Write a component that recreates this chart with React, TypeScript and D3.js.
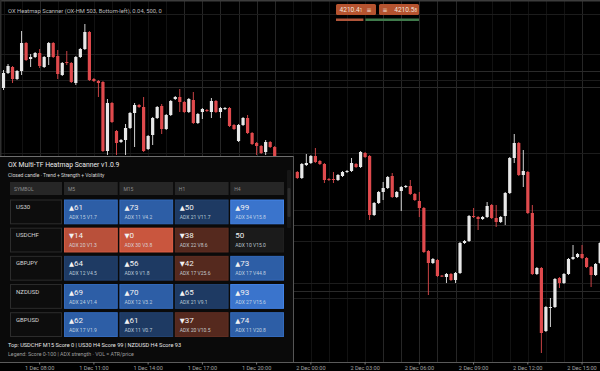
import * as d3 from "d3";

const W = 600;
const H = 371;

// 15m candles [open, high, low, close]; indices 0..60 sit above/behind the scanner panel
const leftStart = 0;
const leftCandles: number[][] = [
  [4258, 4262.5, 4257.5, 4261.75],
  [4261.75, 4264, 4261.5, 4263.5],
  [4263.25, 4263.5, 4259.25, 4260.25],
  [4260.25, 4262.5, 4260, 4262.25],
  [4262.25, 4272.25, 4261.25, 4269.25],
  [4269.25, 4269.5, 4264.75, 4265],
  [4265.25, 4266.5, 4263.25, 4265.75],
  [4265.75, 4267, 4265.5, 4266.75],
  [4266.75, 4267.75, 4263, 4263.5],
  [4263.25, 4266, 4263, 4265.75],
  [4265.75, 4269.5, 4263.75, 4269.25],
  [4269.25, 4269.5, 4265.5, 4265.75],
  [4266, 4267.5, 4260.25, 4261.5],
  [4261.25, 4264.5, 4261, 4264.25],
  [4264.5, 4267.25, 4263.75, 4264.25],
  [4264.25, 4264.5, 4259.25, 4259.5],
  [4259.25, 4266, 4258.75, 4265.75],
  [4265.75, 4268, 4265.5, 4267.75],
  [4267.75, 4274, 4267.5, 4272],
  [4272, 4272.25, 4259.75, 4260],
  [4260.25, 4260.5, 4259.5, 4259.75],
  [4259.75, 4260, 4255.75, 4259.25],
  [4259.5, 4259.75, 4242, 4242.25],
  [4242.25, 4255.25, 4241.25, 4254.25],
  [4254.25, 4254.5, 4249.25, 4249.5],
  [4247.25, 4247.5, 4241.25, 4244.25],
  [4244.5, 4245.25, 4244.25, 4245],
  [4245, 4249, 4241.25, 4248],
  [4248, 4252, 4247.75, 4251.75],
  [4251.75, 4254.25, 4243.25, 4253.75],
  [4253.75, 4254, 4253, 4253.25],
  [4253.25, 4255.75, 4242, 4242.25],
  [4242.75, 4246.25, 4242.5, 4246],
  [4246.25, 4250.75, 4243.75, 4250.5],
  [4250.5, 4253.5, 4250.25, 4253.25],
  [4253.5, 4254, 4246.5, 4247.75],
  [4247.75, 4251.5, 4247.5, 4251.25],
  [4251.25, 4255, 4251, 4254.75],
  [4255.25, 4256, 4255, 4255.75],
  [4255.75, 4257.75, 4252, 4254.5],
  [4254.5, 4254.75, 4251.75, 4252],
  [4252, 4255.5, 4251.75, 4255.25],
  [4255, 4257, 4249, 4249.25],
  [4249.25, 4251.75, 4249, 4251.5],
  [4252, 4253, 4250.25, 4252.75],
  [4252.5, 4252.75, 4252, 4252.25],
  [4252, 4255.5, 4250.5, 4254.75],
  [4254.75, 4255, 4251.75, 4252],
  [4252, 4253.25, 4250.5, 4253],
  [4252.75, 4253.25, 4252.5, 4253],
  [4253, 4253.25, 4248.25, 4248.5],
  [4248.75, 4249, 4247.5, 4247.75],
  [4244.75, 4249, 4244.5, 4248.75],
  [4248.75, 4250.75, 4248.5, 4250.5],
  [4250.5, 4251.25, 4246.5, 4246.75],
  [4246.75, 4247, 4243.75, 4244],
  [4244.25, 4244.5, 4241.25, 4243.5],
  [4243.5, 4243.75, 4241.5, 4241.75],
  [4242, 4245, 4241.25, 4244.5],
  [4244.5, 4244.75, 4243, 4243.25],
  [4243.25, 4243.5, 4240.5, 4240.75],
];

// indices 65..132, right of the panel
const rightStart = 65;
const rightCandles: number[][] = [
  [4237, 4237.25, 4235.25, 4235.5],
  [4235.5, 4239.25, 4235.25, 4239],
  [4238.75, 4241.5, 4238.5, 4239.25],
  [4239.25, 4241.25, 4239, 4241],
  [4241, 4243, 4239.25, 4239.5],
  [4239.75, 4240, 4238.75, 4239],
  [4239, 4239.25, 4234.25, 4235],
  [4235.25, 4235.5, 4234.75, 4235],
  [4235.25, 4237, 4234.25, 4235],
  [4235, 4236.5, 4234.75, 4236.25],
  [4236, 4237.25, 4235.75, 4237],
  [4237, 4237.5, 4236.75, 4237.25],
  [4237.25, 4240.5, 4237, 4239.25],
  [4239, 4239.25, 4238, 4238.25],
  [4238.25, 4242.25, 4238, 4242],
  [4241.75, 4242, 4240.5, 4240.75],
  [4241, 4241.25, 4225, 4226.25],
  [4226.25, 4229.5, 4226, 4229.25],
  [4229.25, 4232.25, 4229, 4232],
  [4232, 4234.5, 4230, 4233],
  [4233, 4236, 4232.75, 4235.75],
  [4236, 4236.75, 4230.5, 4230.75],
  [4230.75, 4232.25, 4230.5, 4232],
  [4232.25, 4233.5, 4227.25, 4233.25],
  [4233.25, 4233.75, 4233, 4233.5],
  [4233.5, 4235, 4231.25, 4231.5],
  [4231.5, 4231.75, 4229.75, 4230],
  [4229.75, 4232, 4225.75, 4228],
  [4228, 4228.25, 4216.75, 4217],
  [4217.25, 4217.5, 4206.25, 4214.25],
  [4214.25, 4215.5, 4214, 4215.25],
  [4215, 4215.25, 4210.75, 4211],
  [4211.1, 4211.25, 4210.75, 4211],
  [4210.75, 4211.75, 4209.25, 4211.5],
  [4211.5, 4211.75, 4209.75, 4210],
  [4210, 4212, 4209.25, 4211.75],
  [4211.75, 4219.5, 4211.5, 4219.25],
  [4219.25, 4220, 4219, 4219.75],
  [4219.75, 4226.25, 4219.5, 4226],
  [4226, 4228, 4225.5, 4225.75],
  [4225.75, 4226, 4222.5, 4225.25],
  [4225.25, 4226, 4225, 4225.75],
  [4225.75, 4229.5, 4225.5, 4228.5],
  [4228.75, 4229, 4225.25, 4225.5],
  [4225.5, 4228.75, 4223.25, 4224.5],
  [4224.5, 4226, 4224.25, 4225.75],
  [4226, 4232, 4223.75, 4231.75],
  [4231.75, 4240.75, 4231.5, 4240.5],
  [4240.5, 4246.5, 4239.25, 4244.25],
  [4244.25, 4244.5, 4236, 4236.25],
  [4236.25, 4242.5, 4233.25, 4237.25],
  [4237, 4237.25, 4226.5, 4226.75],
  [4226.75, 4228.75, 4211.25, 4211.5],
  [4211.5, 4213.25, 4211.25, 4213],
  [4213, 4213.25, 4191.75, 4196.75],
  [4197.25, 4203.5, 4197, 4203.25],
  [4203, 4205.5, 4198.25, 4203.25],
  [4203.25, 4210.5, 4203, 4210.25],
  [4210.5, 4210.75, 4208, 4209.25],
  [4209.25, 4211.75, 4209, 4211.5],
  [4211.5, 4215.5, 4211.25, 4215.25],
  [4215.25, 4218.75, 4215, 4215.75],
  [4215.75, 4216.75, 4215.5, 4216.5],
  [4216.5, 4218.75, 4215.25, 4215.5],
  [4215.5, 4215.75, 4213, 4213.25],
  [4213.25, 4213.5, 4208.25, 4211.25],
  [4211.25, 4214.25, 4211, 4214],
  [4214.25, 4219.5, 4214, 4219.25],
];

const tickIdx = [8, 20, 32, 44, 56, 68, 80, 92, 104, 116, 128];
const tickLabels = [
  "1 Dec 08:00", "1 Dec 11:00", "1 Dec 14:00", "1 Dec 17:00", "1 Dec 20:00",
  "2 Dec 00:00", "2 Dec 03:00", "2 Dec 06:00", "2 Dec 09:00", "2 Dec 12:00", "2 Dec 15:00",
];
const strongGridIdx = [8, 40, 44, 48, 52, 56, 60, 84, 88, 92, 96, 100, 128];
const priceLevels = [4276.5, 4266.5, 4262.25, 4260, 4258.25, 4241.75, 4227.5, 4223.75, 4219.75, 4209.25, 4207.25, 4205.5];
const strongLevels = [4262.25, 4258.25, 4223.75, 4207.25];

const bidAsk = ["4210.4", "4210.5"];
const bidAskTail = ["1", "8"];
const sentiment = [33, 67];

const symbols = ["US30", "USDCHF", "GBPJPY", "NZDUSD", "GBPUSD"];
const timeframes = ["M5", "M15", "H1", "H4"];
const scores = [
  [61, 73, 50, 99],
  [14, 0, 38, 50],
  [64, 56, 42, 73],
  [69, 70, 65, 93],
  [62, 61, 37, 74],
];
const adx = [
  [15, 11, 21, 34],
  [20, 30, 22, 10],
  [12, 9, 17, 17],
  [24, 12, 21, 27],
  [17, 11, 20, 11],
];
const vol = [
  ["1.7", "4.2", "11.7", "15.8"],
  ["1.3", "3.8", "8.6", "15.0"],
  ["4.5", "1.8", "25.6", "44.8"],
  ["1.4", "3.2", "9.1", "15.6"],
  ["1.9", "0.7", "10.5", "20.8"],
];
// signal state per cell
const states = [
  ["bull", "bull", "weakBull", "strongBull"],
  ["bear", "strongBear", "weakBear", "neutral"],
  ["weakBull", "weakBull", "weakBear", "bull"],
  ["bull", "bull", "weakBull", "strongBull"],
  ["bull", "weakBull", "weakBear", "bull"],
];
const topLine = "Top: USDCHF M15 Score 0 | US30 H4 Score 99 | NZDUSD H4 Score 93";
const legendLine = "Legend: Score 0-100 | ADX strength · VOL = ATR/price";

const stateColor: Record<string, string> = {
  strongBull: "#3a74cc",
  bull: "#2d5ea6",
  weakBull: "#1e3a63",
  neutral: "#1b1b1b",
  weakBear: "#55291e",
  bear: "#b9503a",
  strongBear: "#c9563e",
};

const FONT = "Roboto, 'DejaVu Sans', sans-serif";

export default function App() {
  const x = d3.scaleLinear().domain([0, 132]).range([3.5, 3.5 + 132 * 4.52]);
  const y = d3.scaleLinear().domain([4280, 4189.5]).range([0, 362]);

  const candles = [
    ...leftCandles.map((c, i) => ({ i: leftStart + i, o: c[0], h: c[1], l: c[2], c: c[3] })),
    ...rightCandles.map((c, i) => ({ i: rightStart + i, o: c[0], h: c[1], l: c[2], c: c[3] })),
  ];

  const hours = d3.range(0, 133, 4);

  // scanner layout
  const panel = { x: 0, y: 156, w: 293, h: 206 };
  const colX = d3.scaleBand<number>().domain(d3.range(4)).range([64, 284]).paddingInner(0.03);
  const rowY = d3.scaleBand<number>().domain(d3.range(symbols.length)).range([199.5, 337]).paddingInner(0.12);

  const bar = d3.scaleLinear().domain([0, 100]).range([336, 419]);

  return (
    <div style={{ position: "fixed", left: 0, top: 0, width: W, height: H, background: "#000" }}>
      <svg width={W} height={H} style={{ display: "block", fontFamily: FONT }}>
        <rect width={W} height={H} fill="#000" />

        {/* grid */}
        {hours.map((h) => (
          <line key={"v" + h} x1={Math.round(x(h)) + 0.5} x2={Math.round(x(h)) + 0.5} y1={0} y2={362}
            stroke={strongGridIdx.includes(h) ? "#262626" : "#121212"} />
        ))}
        {priceLevels.map((p) => (
          <line key={"h" + p} x1={0} x2={W} y1={Math.round(y(p)) + 0.5} y2={Math.round(y(p)) + 0.5}
            stroke={strongLevels.includes(p) ? "#2a2a2a" : "#1c1c1c"} />
        ))}

        {/* candles */}
        {candles.map((d) => {
          const up = d.c >= d.o;
          const col = up ? "#e8e8e8" : "#e04a4d";
          const cx = x(d.i);
          const top = y(Math.max(d.o, d.c));
          const bh = Math.max(1, y(Math.min(d.o, d.c)) - top);
          return (
            <g key={d.i}>
              <line x1={cx} x2={cx} y1={y(d.h)} y2={y(d.l)} stroke={col} strokeWidth={0.9} />
              <rect x={cx - 1.6} y={top} width={3.2} height={bh} fill={col} />
            </g>
          );
        })}

        {/* pane border + title */}
        <line x1={0} x2={W} y1={0.75} y2={0.75} stroke="#3c3c3c" strokeWidth={1.5} />
        <line x1={0.75} x2={0.75} y1={0} y2={362} stroke="#2e2e2e" strokeWidth={1.5} />
        <text x={8} y={12.5} fontSize={5.8} fill="#bdbdbd">
          OX Heatmap Scanner (OX-HM 503, Bottom-left), 0.04, 500, 0
        </text>

        {/* bid / ask badges */}
        {bidAsk.map((v, k) => {
          const bx = k === 0 ? 336 : 379;
          return (
            <g key={v}>
              <rect x={bx} y={4} width={40} height={11} rx={1.5} fill="#b5532f" />
              {k === 0 ? (
                <>
                  <text x={bx + 3.5} y={12.3} fontSize={6.6} fill="#f3e3dc">
                    {v}<tspan fontSize={4.5}>{bidAskTail[k]}</tspan>
                  </text>
                  <text x={bx + 33} y={12} fontSize={6} fill="#f3e3dc" textAnchor="middle">≡</text>
                </>
              ) : (
                <>
                  <text x={bx + 6} y={12} fontSize={6} fill="#f3e3dc" textAnchor="middle">≡</text>
                  <text x={bx + 38} y={12.3} fontSize={6.6} fill="#f3e3dc" textAnchor="end">
                    {v}<tspan fontSize={4.5}>{bidAskTail[k]}</tspan>
                  </text>
                </>
              )}
            </g>
          );
        })}
        <rect x={bar(0)} y={18.5} width={bar(sentiment[0]) - bar(0)} height={2.5} fill="#b0553a" />
        <rect x={bar(sentiment[0]) + 2} y={18.5} width={bar(100) - bar(sentiment[0]) - 2} height={2.5} fill="#3f7a4b" />

        {/* x axis */}
        <line x1={0} x2={W} y1={362.5} y2={362.5} stroke="#5a5a5a" />
        {tickIdx.map((t, k) => (
          <g key={t}>
            <line x1={x(t)} x2={x(t)} y1={362} y2={364.5} stroke="#777" />
            <text x={x(t)} y={369.5} fontSize={5.6} fill="#a2a2a2" textAnchor="middle">{tickLabels[k]}</text>
          </g>
        ))}

        {/* scanner panel */}
        <rect x={panel.x} y={panel.y} width={panel.w} height={panel.h} fill="#0a0a0a" />
        <line x1={0} x2={panel.w} y1={panel.y + 0.5} y2={panel.y + 0.5} stroke="#6e6e6e" />
        <line x1={panel.w + 0.5} x2={panel.w + 0.5} y1={panel.y} y2={362} stroke="#555" />
        <text x={8} y={166.5} fontSize={6.8} fill="#ececec">OX Multi-TF Heatmap Scanner v1.0.9</text>
        <text x={8} y={177} fontSize={5} fill="#d6d6d6">Closed candle · Trend + Strength + Volatility</text>

        <rect x={287} y={170} width={4} height={58} rx={1} fill="#161616" />
        <rect x={287.5} y={188} width={3} height={29} rx={1} fill="#2c2c2c" />

        {/* header */}
        <rect x={10} y={182} width={52} height={13} fill="#262626" />
        <text x={14} y={191} fontSize={5} fill="#8c8c8c">SYMBOL</text>
        {timeframes.map((tf, c) => (
          <g key={tf}>
            <rect x={colX(c)} y={182} width={colX.bandwidth()} height={13} fill="#262626" />
            <text x={(colX(c) ?? 0) + 4} y={191} fontSize={5} fill="#8c8c8c">{tf}</text>
          </g>
        ))}

        {/* rows */}
        {symbols.map((s, r) => {
          const ry = rowY(r) ?? 0;
          const rh = rowY.bandwidth();
          return (
            <g key={s}>
              <rect x={10.5} y={ry + 0.5} width={51} height={rh - 1} fill="#0d0d0d" stroke="#2c2c2c" />
              <text x={16} y={ry + 9.5} fontSize={6} fill="#d4d4d4">{s}</text>
              {timeframes.map((tf, c) => {
                const st = states[r][c];
                const cx0 = colX(c) ?? 0;
                const arrow = st.includes("Bull") || st === "bull" ? "▲" : st.includes("Bear") || st === "bear" ? "▼" : "";
                const fill = stateColor[st];
                return (
                  <g key={tf}>
                    <rect x={cx0 + 0.5} y={ry + 0.5} width={colX.bandwidth() - 1} height={rh - 1} fill={fill}
                      stroke={d3.color(fill)?.brighter(0.35).formatHex() ?? fill} />
                    <text x={cx0 + 5} y={ry + 10.5} fontSize={8} fill="#f2f2f2">
                      {arrow && <tspan fontSize={6.5}>{arrow}</tspan>}
                      {scores[r][c]}
                    </text>
                    <text x={cx0 + 5} y={ry + 19.5} fontSize={5} fill="#dde3ec" fillOpacity={0.85}>
                      {`ADX ${adx[r][c]} V${vol[r][c]}`}
                    </text>
                  </g>
                );
              })}
            </g>
          );
        })}

        <text x={8} y={347} fontSize={5.6} fill="#e6e6e6">{topLine}</text>
        <text x={8} y={356} fontSize={5.3} fill="#9d9d9d">{legendLine}</text>
      </svg>
    </div>
  );
}
